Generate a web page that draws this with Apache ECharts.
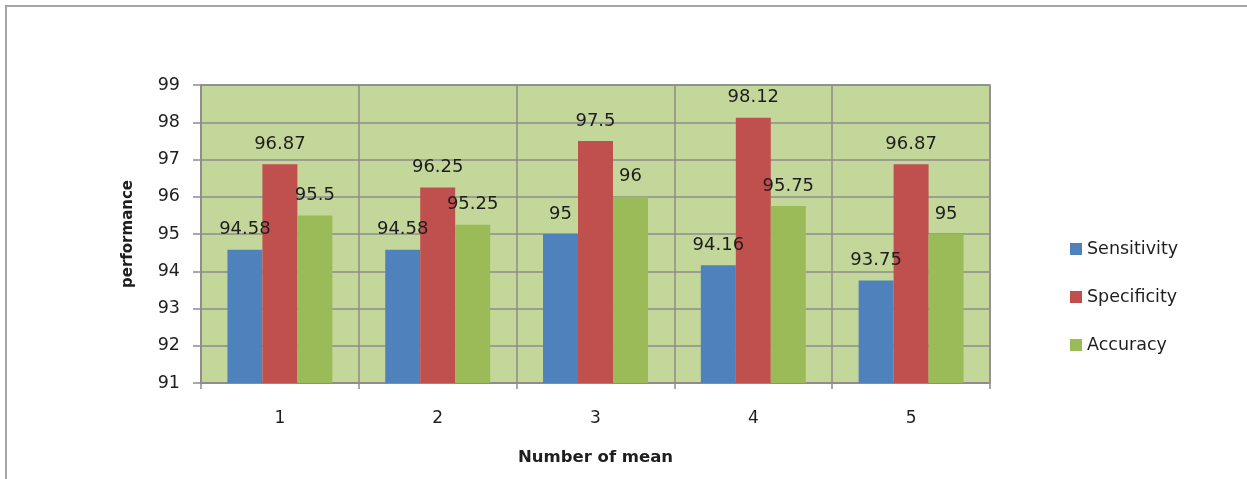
<!DOCTYPE html>
<html>
<head>
<meta charset="utf-8">
<title>Performance by number of mean</title>
<script src="https://cdn.jsdelivr.net/npm/echarts@6/dist/echarts.min.js"></script>
<style>
  html, body { margin: 0; padding: 0; background: #ffffff; }
  #chart { width: 1247px; height: 479px; }
</style>
</head>
<body>
<div id="chart"></div>
<script>
// Categories and measured values for each series
const categories = ['1', '2', '3', '4', '5'];
const sensitivity = [94.58, 94.58, 95, 94.16, 93.75];
const specificity = [96.87, 96.25, 97.5, 98.12, 96.87];
const accuracy = [95.5, 95.25, 96, 95.75, 95];
const yTicks = { min: 91, max: 99, step: 1 };

const FONT = 'DejaVu Sans';
const TEXT = '#1e1e1e';
const GRID = '#8c8c8c';

function barSeries(name, data, color) {
  return {
    name: name,
    type: 'bar',
    data: data,
    barGap: 0,
    barCategoryGap: '33.5%',
    itemStyle: { color: color },
    label: {
      show: true,
      position: 'top',
      distance: 11,
      fontFamily: FONT,
      fontSize: 18,
      color: TEXT
    }
  };
}

const chart = echarts.init(document.getElementById('chart'), null, { renderer: 'canvas' });
chart.setOption({
  animation: false,
  backgroundColor: '#ffffff',
  graphic: [{
    type: 'rect',
    shape: { x: 6, y: 6, width: 1400, height: 700 },
    style: { fill: 'none', stroke: '#a6a6a6', lineWidth: 2 },
    z: 0
  }],
  grid: {
    left: 201, top: 85, right: 257, bottom: 96,
    show: true,
    backgroundColor: '#c4d79b',
    borderColor: GRID,
    borderWidth: 1.5
  },
  legend: {
    orient: 'vertical',
    left: 1070,
    top: 240,
    padding: 0,
    itemWidth: 12,
    itemHeight: 12,
    itemGap: 30,
    icon: 'rect',
    textStyle: { fontFamily: FONT, fontSize: 17.5, color: TEXT },
    data: ['Sensitivity', 'Specificity', 'Accuracy']
  },
  xAxis: {
    type: 'category',
    data: categories,
    name: 'Number of mean',
    nameLocation: 'middle',
    nameGap: 66,
    nameTextStyle: { fontFamily: FONT, fontSize: 16.5, fontWeight: 'bold', color: TEXT },
    axisLine: { lineStyle: { color: GRID, width: 1.5 } },
    axisTick: { show: true, length: 6, lineStyle: { color: GRID, width: 1.5 } },
    axisLabel: { fontFamily: FONT, fontSize: 17, color: TEXT, margin: 27 },
    splitLine: { show: true, lineStyle: { color: GRID, width: 1.5 } }
  },
  yAxis: {
    type: 'value',
    min: yTicks.min,
    max: yTicks.max,
    interval: yTicks.step,
    name: 'performance',
    nameLocation: 'middle',
    nameRotate: 90,
    nameGap: 65,
    nameTextStyle: { fontFamily: FONT, fontSize: 15, fontWeight: 'bold', color: TEXT },
    axisLine: { show: true, lineStyle: { color: GRID, width: 1.5 } },
    axisTick: { show: true, length: 8, lineStyle: { color: GRID, width: 1.5 } },
    axisLabel: { fontFamily: FONT, fontSize: 17.5, color: TEXT, margin: 21 },
    splitLine: { show: true, lineStyle: { color: GRID, width: 1.5 } }
  },
  series: [
    barSeries('Sensitivity', sensitivity, '#4f81bd'),
    barSeries('Specificity', specificity, '#c0504d'),
    barSeries('Accuracy', accuracy, '#9bbb59')
  ]
});
</script>
</body>
</html>
